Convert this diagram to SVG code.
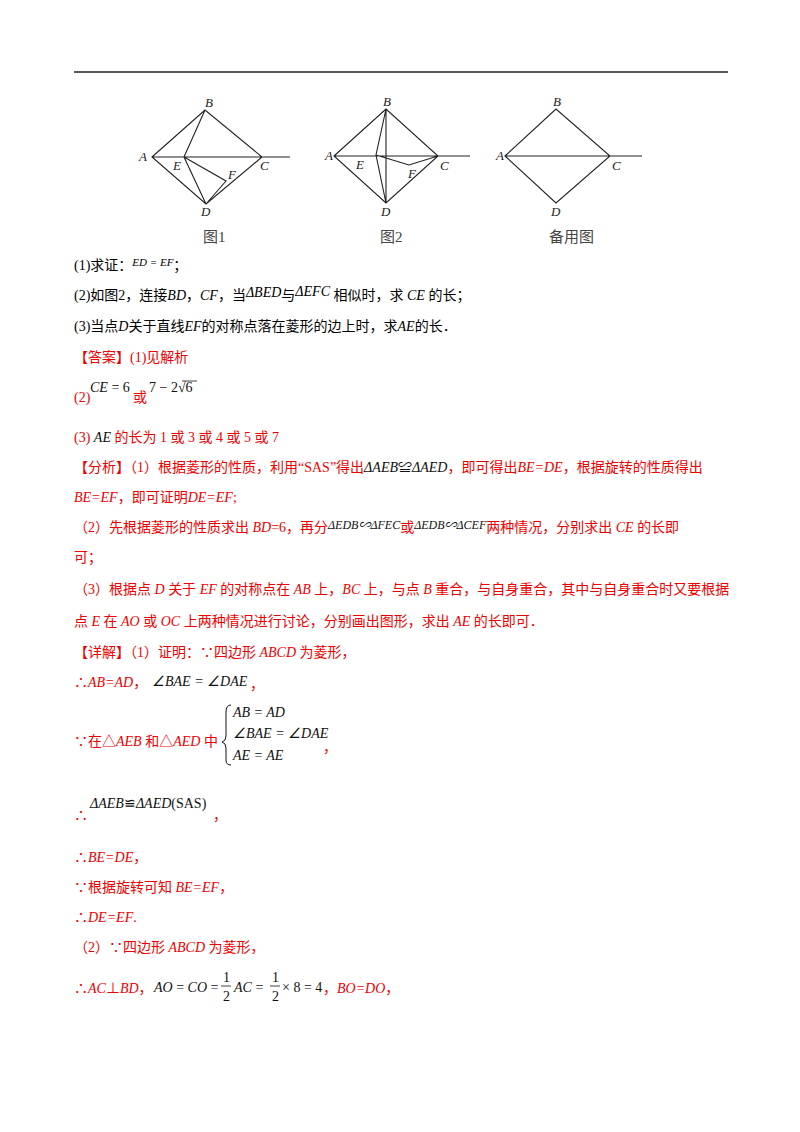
<svg xmlns="http://www.w3.org/2000/svg" width="800" height="1132" viewBox="0 0 800 1132">
<style>
.g{fill:none;stroke:#222;stroke-width:1.1}
.L{font-family:"Liberation Serif",serif;font-style:italic;font-size:13px;fill:#222}
.cap{font-family:"Liberation Serif","Noto Sans CJK SC",serif;font-size:15px;fill:#444}
.t{font-family:"Liberation Serif","Noto Sans CJK SC",serif;font-size:14px;fill:#000}
.r{font-family:"Liberation Serif","Noto Sans CJK SC",serif;font-size:14px;fill:#e00}
.m{font-family:"Liberation Serif",serif;font-size:14px;fill:#111}
</style>
<rect width="800" height="1132" fill="#fff"/>
<line x1="74" y1="72" x2="728" y2="72" stroke="#222" stroke-width="1.5"/>
<g id="fig1">
<path class="g" d="M152 157 L205 110 L262 157 L206 204 Z M152 157 H290 M184 157 L205 110 M184 157 L206 204 M184 157 L226 181 L206 204"/>
<text class="L" x="205" y="107">B</text><text class="L" x="139" y="161">A</text><text class="L" x="173" y="170">E</text><text class="L" x="228" y="179">F</text><text class="L" x="260" y="170">C</text><text class="L" x="201" y="216">D</text>
<text class="cap" x="203" y="242">图1</text>
</g>
<g id="fig2">
<path class="g" d="M334 156 L386 109 L438 156 L386 203 Z M334 156 H470 M386 109 V203 M386 109 L376 155 L386 203 M376 155 L409 165 L438 156"/>
<text class="L" x="383" y="106">B</text><text class="L" x="325" y="160">A</text><text class="L" x="356" y="169">E</text><text class="L" x="408" y="178">F</text><text class="L" x="440" y="170">C</text><text class="L" x="381" y="216">D</text>
<text class="cap" x="380" y="242">图2</text>
</g>
<g id="fig3">
<path class="g" d="M505 156 L556 109 L610 156 L556 203 Z M505 156 H642"/>
<text class="L" x="553" y="106">B</text><text class="L" x="496" y="160">A</text><text class="L" x="612" y="170">C</text><text class="L" x="551" y="216">D</text>
<text class="cap" x="549" y="242">备用图</text>
</g>
<g id="text">
<text class="t" x="74" y="270">(1)求证：<tspan font-style="italic" font-size="11" dy="-4">ED = EF</tspan><tspan dy="4">；</tspan></text>
<text class="t" x="74" y="300">(2)如图2，连接<tspan font-style="italic">BD</tspan>，<tspan font-style="italic">CF</tspan>，当<tspan font-style="italic" dy="-3">ΔBED</tspan><tspan dy="3">与</tspan><tspan font-style="italic" dy="-4">ΔEFC</tspan><tspan dy="4"> 相似时，求 </tspan><tspan font-style="italic">CE</tspan> 的长；</text>
<text class="t" x="74" y="331">(3)当点<tspan font-style="italic">D</tspan>关于直线<tspan font-style="italic">EF</tspan>的对称点落在菱形的边上时，求<tspan font-style="italic">AE</tspan>的长．</text>
<text class="r" x="74" y="362">【答案】(1)见解析</text>
<text class="r" x="74" y="402">(2)</text>
<text class="m" x="90" y="392"><tspan font-style="italic">CE</tspan> = 6</text>
<text class="r" x="133" y="402">或</text>
<text class="m" x="149" y="392">7 − 2√6</text>
<line x1="182" y1="381" x2="197" y2="381" stroke="#111" stroke-width="0.8"/>
<text class="r" x="74" y="442">(3) <tspan font-style="italic" fill="#111">AE</tspan> 的长为 1 或 3 或 4 或 5 或 7</text>
<text class="r" x="74" y="472">【分析】（1）根据菱形的性质，利用“SAS”得出<tspan fill="#111" font-style="italic">ΔAEB</tspan><tspan fill="#111">≌</tspan><tspan fill="#111" font-style="italic">ΔAED</tspan>，即可得出<tspan font-style="italic">BE=DE</tspan>，根据旋转的性质得出</text>
<text class="r" x="74" y="502"><tspan font-style="italic">BE=EF</tspan>，即可证明<tspan font-style="italic">DE=EF</tspan>;</text>
<text class="r" x="74" y="532">（2）先根据菱形的性质求出 <tspan font-style="italic">BD</tspan>=6，再分<tspan fill="#111" font-style="italic" font-size="12" dy="-3">ΔEDB∽ΔFEC</tspan><tspan dy="3">或</tspan><tspan fill="#111" font-style="italic" font-size="12" dy="-3">ΔEDB∽ΔCEF</tspan><tspan dy="3">两种情况，分别求出 </tspan><tspan font-style="italic">CE</tspan> 的长即</text>
<text class="r" x="74" y="562">可；</text>
<text class="r" x="74" y="594">（3）根据点 <tspan font-style="italic">D</tspan> 关于 <tspan font-style="italic">EF</tspan> 的对称点在 <tspan font-style="italic">AB</tspan> 上，<tspan font-style="italic">BC</tspan> 上，与点 <tspan font-style="italic">B</tspan> 重合，与自身重合，其中与自身重合时又要根据</text>
<text class="r" x="74" y="626">点 <tspan font-style="italic">E</tspan> 在 <tspan font-style="italic">AO</tspan> 或 <tspan font-style="italic">OC</tspan> 上两种情况进行讨论，分别画出图形，求出 <tspan font-style="italic">AE</tspan> 的长即可．</text>
<text class="r" x="74" y="657">【详解】（1）证明：∵四边形 <tspan font-style="italic">ABCD</tspan> 为菱形，</text>
<text class="r" x="74" y="687">∴<tspan font-style="italic">AB=AD</tspan>，</text>
<text class="m" x="152" y="686" font-style="italic">∠BAE = ∠DAE</text><text class="r" x="250" y="689">，</text>
<text class="r" x="74" y="746">∵在△<tspan font-style="italic">AEB</tspan> 和△<tspan font-style="italic">AED</tspan> 中</text>
<path d="M231 705 Q226 705 226 712 V736 Q226 741 222 742 Q226 743 226 748 V760 Q226 765 231 765" fill="none" stroke="#111" stroke-width="1"/>
<text class="m" x="233" y="717" font-style="italic">AB = AD</text>
<text class="m" x="233" y="738" font-style="italic">∠BAE = ∠DAE</text>
<text class="m" x="233" y="760" font-style="italic">AE = AE</text>
<text class="r" x="323" y="752">，</text>
<text class="r" x="74" y="820">∴</text>
<text class="m" x="90" y="808"><tspan font-style="italic">ΔAEB</tspan>≌<tspan font-style="italic">ΔAED</tspan>(SAS)</text>
<text class="r" x="213" y="820">，</text>
<text class="r" x="74" y="862">∴<tspan font-style="italic">BE=DE</tspan>，</text>
<text class="r" x="74" y="892">∵根据旋转可知 <tspan font-style="italic">BE=EF</tspan>，</text>
<text class="r" x="74" y="922">∴<tspan font-style="italic">DE=EF</tspan>.</text>
<text class="r" x="74" y="952">（2）∵四边形 <tspan font-style="italic">ABCD</tspan> 为菱形，</text>
<text class="r" x="74" y="993">∴<tspan font-style="italic">AC</tspan>⊥<tspan font-style="italic">BD</tspan>，</text>
<text class="m" x="154" y="992"><tspan font-style="italic">AO</tspan> = <tspan font-style="italic">CO</tspan> =</text>
<text class="m" x="223" y="982" font-size="12">1</text><line x1="221" y1="986" x2="231" y2="986" stroke="#111" stroke-width="0.8"/><text class="m" x="223" y="1001" font-size="12">2</text>
<text class="m" x="234" y="992"><tspan font-style="italic">AC</tspan> =</text>
<text class="m" x="272" y="982" font-size="12">1</text><line x1="270" y1="986" x2="280" y2="986" stroke="#111" stroke-width="0.8"/><text class="m" x="272" y="1001" font-size="12">2</text>
<text class="m" x="282" y="992">× 8 = 4</text>
<text class="r" x="323" y="993">，<tspan font-style="italic">BO=DO</tspan>，</text>
</g>
</svg>
